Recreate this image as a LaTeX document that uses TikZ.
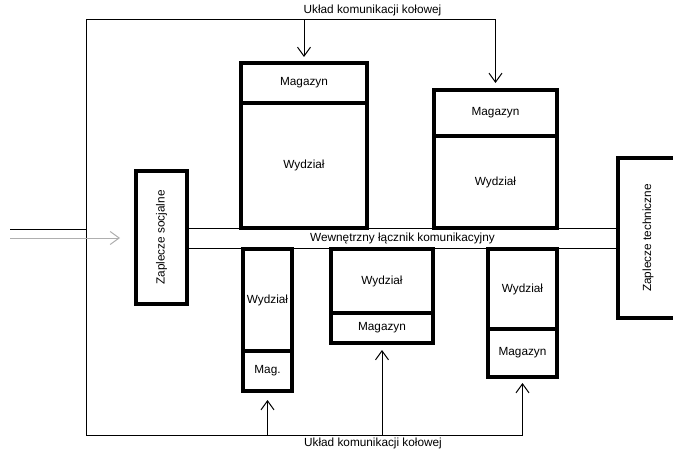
\documentclass[tikz,border=0pt]{standalone}
\usepackage{fontspec}
\setmainfont{Liberation Sans}
\usetikzlibrary{arrows.meta,calc}
\begin{document}
\begin{tikzpicture}[x=1pt,y=-1pt,
  font=\fontsize{11.8}{14}\selectfont,
  blk/.style={draw, line width=3.6pt, fill=white, rectangle, inner sep=0pt, outer sep=0pt, align=center},
  conn/.style={line width=1pt, line cap=rect},
  arr/.style={line width=1pt, -{Straight Barb[length=9pt,width=13pt]}},
  grayarr/.style={line width=1pt, draw={rgb,255:red,175;green,175;blue,175}, -{Straight Barb[length=9pt,width=13pt]}},
  lbl/.style={inner sep=0pt}]
\useasboundingbox (0,0) rectangle (673,452);
% corridor
\node[draw, line width=1pt, minimum width=431pt, minimum height=20pt, inner sep=0pt, outer sep=0pt] (cor) at (402.5,238) {Wewnętrzny łącznik komunikacyjny};
% side blocks
\node[blk, minimum width=51pt, minimum height=133pt] (zs) at (161.5,237.5) {\rotatebox{90}{Zaplecze socjalne}};
\node[blk, minimum width=60pt, minimum height=160pt] (zt) at (648,238) {\rotatebox{90}{Zaplecze techniczne}};
% upper blocks
\node[blk, minimum width=126pt, minimum height=40pt] (um1) at (304,83) {Magazyn};
\node[blk, minimum width=126pt, minimum height=125pt] (uw1) at (304,165.5) {Wydział};
\node[blk, minimum width=123pt, minimum height=46pt] (um2) at (495.5,113) {Magazyn};
\node[blk, minimum width=123pt, minimum height=92pt] (uw2) at (495.5,182) {Wydział};
% lower blocks
\node[blk, minimum width=49pt, minimum height=102pt] (lw1) at (267.5,300) {Wydział};
\node[blk, minimum width=49pt, minimum height=40pt] (lm1) at (267.5,371) {Mag.};
\node[blk, minimum width=102pt, minimum height=64pt] (lw2) at (382,281) {Wydział};
\node[blk, minimum width=102pt, minimum height=30pt] (lm2) at (382,328) {Magazyn};
\node[blk, minimum width=69pt, minimum height=80pt] (lw3) at (522.5,289) {Wydział};
\node[blk, minimum width=69pt, minimum height=48pt] (lm3) at (522.5,353) {Magazyn};
% labels
\node[lbl] (ttop) at (372.5,10) {Układ komunikacji kołowej};
\node[lbl] (tbot) at (373,443) {Układ komunikacji kołowej};
% loop coordinates
\coordinate (lt) at (86,20);
\coordinate (lb) at (86,435);
\coordinate (rt) at (495.5,20);
\coordinate (rb) at (522.5,435);
\coordinate (in1) at (10,229);
\coordinate (in2) at (10,238);
% ring road
\draw[conn] (in1) -- (in1 -| lt);
\draw[arr, shorten >=7pt] (lb) -- (lt) -- (rt) -- (um2.north);
\draw[arr, shorten >=6pt] (lt -| um1.north) -- (um1.north);
\draw[arr, shorten >=6pt] (lt) -- (lb) -- (rb) -- (lm3.south);
\draw[arr, shorten >=9pt] (lb -| lm1.south) -- (lm1.south);
\draw[arr, shorten >=7pt] (lb -| lm2.south) -- (lm2.south);
% entry arrow
\draw[grayarr, shorten >=16pt] (in2) -- (in2 -| zs.west);
\end{tikzpicture}
\end{document}
